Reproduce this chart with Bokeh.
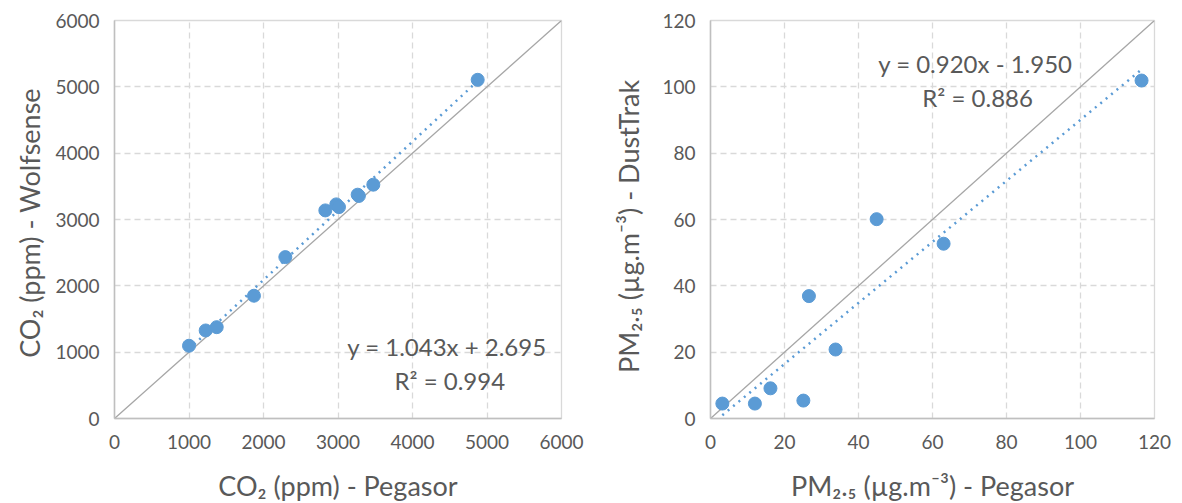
from bokeh.plotting import figure
from bokeh.layouts import row
from bokeh.models import Label, FixedTicker
from bokeh.embed import file_html
from bokeh.resources import INLINE

# ---- data: CO2 ----
co2_pegasor = [1000, 1224, 1372, 1872, 2293, 2830, 2977, 3013, 3264, 3280, 3474, 4875]
co2_wolfsense = [1097, 1327, 1377, 1851, 2433, 3137, 3228, 3187, 3374, 3355, 3525, 5106]
co2_slope, co2_intercept = 1.043, 2.695
co2_eq = "y = 1.043x + 2.695"
co2_r2 = "R² = 0.994"
co2_ticks = [0, 1000, 2000, 3000, 4000, 5000, 6000]

# ---- data: PM2.5 ----
pm_pegasor = [3.2, 12.0, 16.2, 25.1, 26.6, 33.8, 44.9, 63.0, 116.5]
pm_dusttrak = [4.5, 4.5, 9.1, 5.4, 36.9, 20.8, 60.1, 52.7, 101.9]
pm_slope, pm_intercept = 0.920, -1.950
pm_eq = "y = 0.920x - 1.950"
pm_r2 = "R² = 0.886"
pm_ticks = [0, 20, 40, 60, 80, 100, 120]

FONT = "Lato"
TXT = "#595959"
BLUE = "#5B9BD5"


def make_fig(xs, ys, slope, intercept, ticks, xlabel, ylabel, eq, r2, eq_pos, r2_pos,
             mb_left, mb_right, fw, ylab_standoff):
    lo, hi = ticks[0], ticks[-1]
    p = figure(output_backend="svg", toolbar_location=None,
               frame_width=fw, frame_height=398,
               min_border_left=mb_left, min_border_right=mb_right,
               min_border_top=20, min_border_bottom=80,
               x_range=(lo, hi), y_range=(lo, hi))
    p.outline_line_color = "#D9D9D9"
    p.outline_line_width = 1.3
    for ax in (p.xaxis[0], p.yaxis[0]):
        ax.ticker = FixedTicker(ticks=ticks)
        ax.major_tick_line_color = None
        ax.minor_tick_line_color = None
        ax.axis_line_color = "#BFBFBF"
        ax.axis_line_width = 1.5
        ax.major_label_text_font = FONT
        ax.major_label_text_font_size = "19px"
        ax.major_label_text_color = TXT
        ax.axis_label_text_font = FONT
        ax.axis_label_text_font_size = "27px"
        ax.axis_label_text_font_style = "normal"
        ax.axis_label_text_color = TXT
    p.xaxis.major_label_standoff = 10
    p.yaxis.major_label_standoff = 9
    p.xaxis.axis_label_standoff = 17
    p.yaxis.axis_label_standoff = ylab_standoff
    p.xaxis.axis_label = xlabel
    p.yaxis.axis_label = ylabel
    for g in (p.xgrid[0], p.ygrid[0]):
        g.ticker = FixedTicker(ticks=ticks)
        g.grid_line_color = "#D9D9D9"
        g.grid_line_dash = "6 4"
        g.grid_line_width = 1.3

    # 1:1 line
    p.line([lo, hi], [lo, hi], line_color="#A6A6A6", line_width=1.3)
    # trend line
    x0, x1 = min(xs), max(xs)
    p.line([x0, x1], [slope * x0 + intercept, slope * x1 + intercept],
           line_color=BLUE, line_width=2.5, line_dash="2 5")
    p.scatter(xs, ys, size=13, fill_color=BLUE, line_color=BLUE)

    for txt, pos in ((eq, eq_pos), (r2, r2_pos)):
        p.add_layout(Label(x=pos[0], y=pos[1], text=txt, text_align="center",
                           text_baseline="middle", text_font=FONT,
                           text_font_size="24px", text_color=TXT))
    return p


p1 = make_fig(co2_pegasor, co2_wolfsense, co2_slope, co2_intercept, co2_ticks,
              "CO₂ (ppm) - Pegasor", "CO₂ (ppm)  - Wolfsense",
              co2_eq, co2_r2, (4463, 1086), (4500, 573), 114, 36, 447, 6)
p2 = make_fig(pm_pegasor, pm_dusttrak, pm_slope, pm_intercept, pm_ticks,
              "PM₂.₅ (µg.m⁻³) - Pegasor", "PM₂.₅ (µg.m⁻³)  -  DustTrak",
              pm_eq, pm_r2, (71.6, 107.1), (72.2, 96.8), 113, 19, 444, 14)

layout = row(p1, p2)
open("out.html", "w").write(file_html(layout, INLINE))
